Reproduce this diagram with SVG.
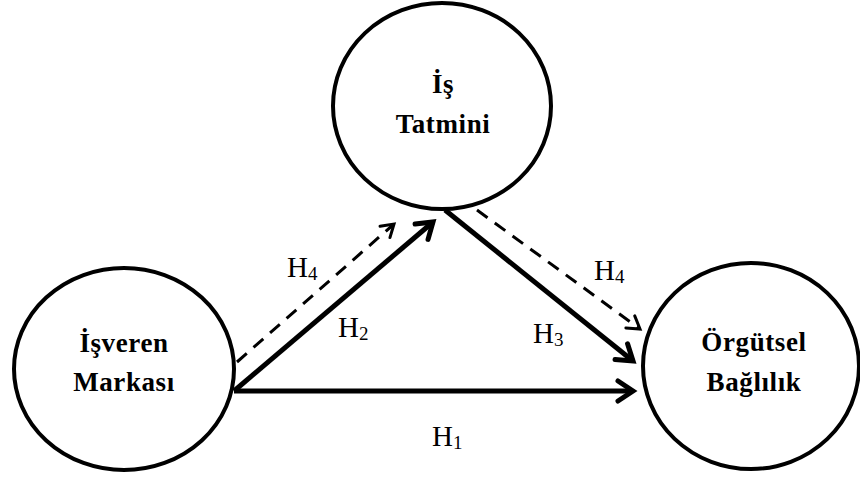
<svg xmlns="http://www.w3.org/2000/svg" width="860" height="479" viewBox="0 0 860 479">
<style>
.node{fill:#fff;stroke:#000;stroke-width:4}
.nt{font-family:"Liberation Serif","Times New Roman",serif;font-weight:bold;font-size:27px;letter-spacing:0.6px;text-anchor:middle;fill:#000}
.lb{font-family:"Liberation Serif","Times New Roman",serif;font-size:29px;fill:#000}
.sub{font-size:19px}
.solid{stroke:#000;stroke-width:5;fill:none}
.dash{stroke:#000;stroke-width:3;fill:none;stroke-dasharray:13 9}
</style>
<defs>
<marker id="ah" markerUnits="userSpaceOnUse" orient="auto" markerWidth="30" markerHeight="30" refX="0" refY="0" viewBox="-20 -15 25 30" overflow="visible">
<path d="M-15,-10 L0,0 L-15,10" fill="none" stroke="#000" stroke-width="5" stroke-linecap="round" stroke-linejoin="miter"/>
</marker>
<marker id="ahd" markerUnits="userSpaceOnUse" orient="auto" markerWidth="30" markerHeight="30" refX="0" refY="0" viewBox="-20 -15 25 30" overflow="visible">
<path d="M-12,-7.5 L0,0 L-12,7.5" fill="none" stroke="#000" stroke-width="3" stroke-linecap="round"/>
</marker>
</defs>
<rect width="860" height="479" fill="#fff"/>
<g id="connectors">
<line class="solid" x1="234" y1="391" x2="633" y2="391" marker-end="url(#ah)"/>
<line class="solid" x1="234" y1="391" x2="433" y2="222" marker-end="url(#ah)"/>
<line class="dash" x1="237" y1="362" x2="394" y2="224" marker-end="url(#ahd)"/>
<line class="solid" x1="445" y1="210" x2="633" y2="361" marker-end="url(#ah)"/>
<line class="dash" x1="477" y1="210" x2="640" y2="329" marker-end="url(#ahd)"/>
</g>
<g id="labels">
<text class="lb" x="287" y="277">H<tspan class="sub" dy="3">4</tspan></text>
<text class="lb" x="338" y="337">H<tspan class="sub" dy="3">2</tspan></text>
<text class="lb" x="533" y="343">H<tspan class="sub" dy="3">3</tspan></text>
<text class="lb" x="594" y="280">H<tspan class="sub" dy="3">4</tspan></text>
<text class="lb" x="432" y="446">H<tspan class="sub" dy="3">1</tspan></text>
</g>
<g id="node-is-tatmini">
<ellipse class="node" cx="442" cy="106" rx="109" ry="103"/>
<text class="nt" x="443" y="93">İş</text>
<text class="nt" x="443" y="133">Tatmini</text>
</g>
<g id="node-isveren-markasi">
<ellipse class="node" cx="124" cy="369" rx="110" ry="101"/>
<text class="nt" x="124" y="352">İşveren</text>
<text class="nt" x="124" y="391">Markası</text>
</g>
<g id="node-orgutsel-baglilik">
<ellipse class="node" cx="751" cy="366" rx="108" ry="103"/>
<text class="nt" x="754" y="351">Örgütsel</text>
<text class="nt" x="754" y="391">Bağlılık</text>
</g>
</svg>
